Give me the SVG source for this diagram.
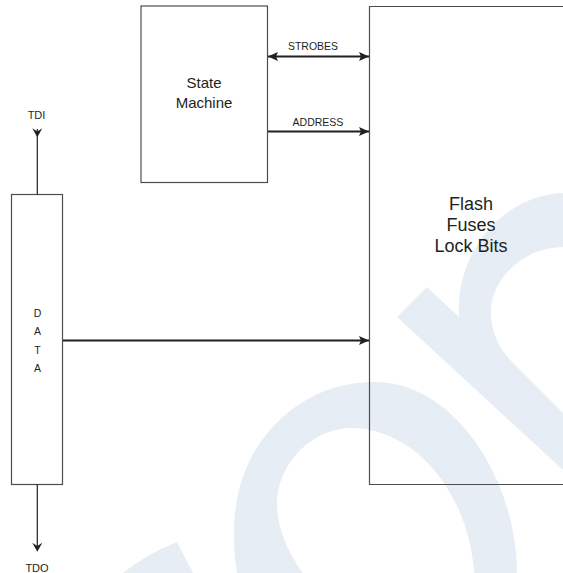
<svg xmlns="http://www.w3.org/2000/svg" width="563" height="573" viewBox="0 0 563 573">
<style>
.box{fill:none;stroke:#4d4d4d;stroke-width:1.2}
.wm{fill:#e7edf5;stroke:none}
.t{font-family:"Liberation Sans",Arial,sans-serif;fill:#231f20;text-anchor:middle}
.big{font-size:15px}
.lg{font-size:18px}
.sm{font-size:10.5px}
.pin{font-size:11px}
.wire{fill:none;stroke:#231f20;stroke-width:2}
.thin{fill:none;stroke:#231f20;stroke-width:1.2}
.head{fill:#231f20}
</style>
<defs>
<marker id="arr" markerUnits="userSpaceOnUse" markerWidth="10" markerHeight="10" viewBox="0 0 10 10" refX="10" refY="5" orient="auto-start-reverse">
<path d="M0,0.5 L10,5 L0,9.5 L2,5 Z" fill="#231f20"/>
</marker>
</defs>
<g id="watermark">
<path class="wm" fill-rule="evenodd" d="M375,382 C455,382 517,480 517,573 L237,573 C230,530 233,480 262,440 C290,402 330,382 375,382 Z M350,428 C305,430 277,470 277,503 C277,530 290,555 303,573 L474,573 C470,500 420,428 350,428 Z"/>
<path class="wm" d="M397,317 L427,287 L459,317 C455,250 505,195 563,193 L563,247 C520,248 488,282 491,318 C493,338 502,352 513,363 L563,413 L563,470 Z"/>
<path class="wm" d="M123,573 Q148,553 177,542 L193,573 Z"/>
</g>
<g id="state-machine">
<rect class="box" x="141" y="6" width="126.5" height="176.5"/>
<text class="t big" x="204" y="88">State</text>
<text class="t big" x="204" y="108">Machine</text>
</g>
<g id="flash">
<path class="box" d="M564,6.5 L369.5,6.5 L369.5,484.5 L564,484.5"/>
<text class="t lg" x="471" y="210">Flash</text>
<text class="t lg" x="471" y="231">Fuses</text>
<text class="t lg" x="471" y="252">Lock Bits</text>
</g>
<g id="data">
<rect class="box" x="11.5" y="194.5" width="51" height="290"/>
<text class="t sm" x="37.5" y="317">D</text>
<text class="t sm" x="37.5" y="335">A</text>
<text class="t sm" x="37.5" y="353.5">T</text>
<text class="t sm" x="37.5" y="372">A</text>
</g>
<g id="connectors">
<path class="wire" d="M268,56.5 L369,56.5" marker-start="url(#arr)" marker-end="url(#arr)"/>
<text class="t sm" x="313" y="50">STROBES</text>
<path class="wire" d="M268,131.5 L369,131.5" marker-end="url(#arr)"/>
<text class="t sm" x="318" y="126">ADDRESS</text>
<path class="wire" d="M63,340.5 L369,340.5" marker-end="url(#arr)"/>
<path class="thin" d="M37.3,194.5 L37.3,129"/>
<path class="head" d="M32.3,128.3 L37.3,131.5 L42.3,128.3 L37.3,137.3 Z"/>
<text class="t pin" x="36.5" y="118.5">TDI</text>
<path class="thin" d="M37.3,484.5 L37.3,546"/>
<path class="head" d="M32.3,542.7 L37.3,545.9 L42.3,542.7 L37.3,551.7 Z"/>
<text class="t pin" x="37" y="571.5">TDO</text>
</g>
</svg>
